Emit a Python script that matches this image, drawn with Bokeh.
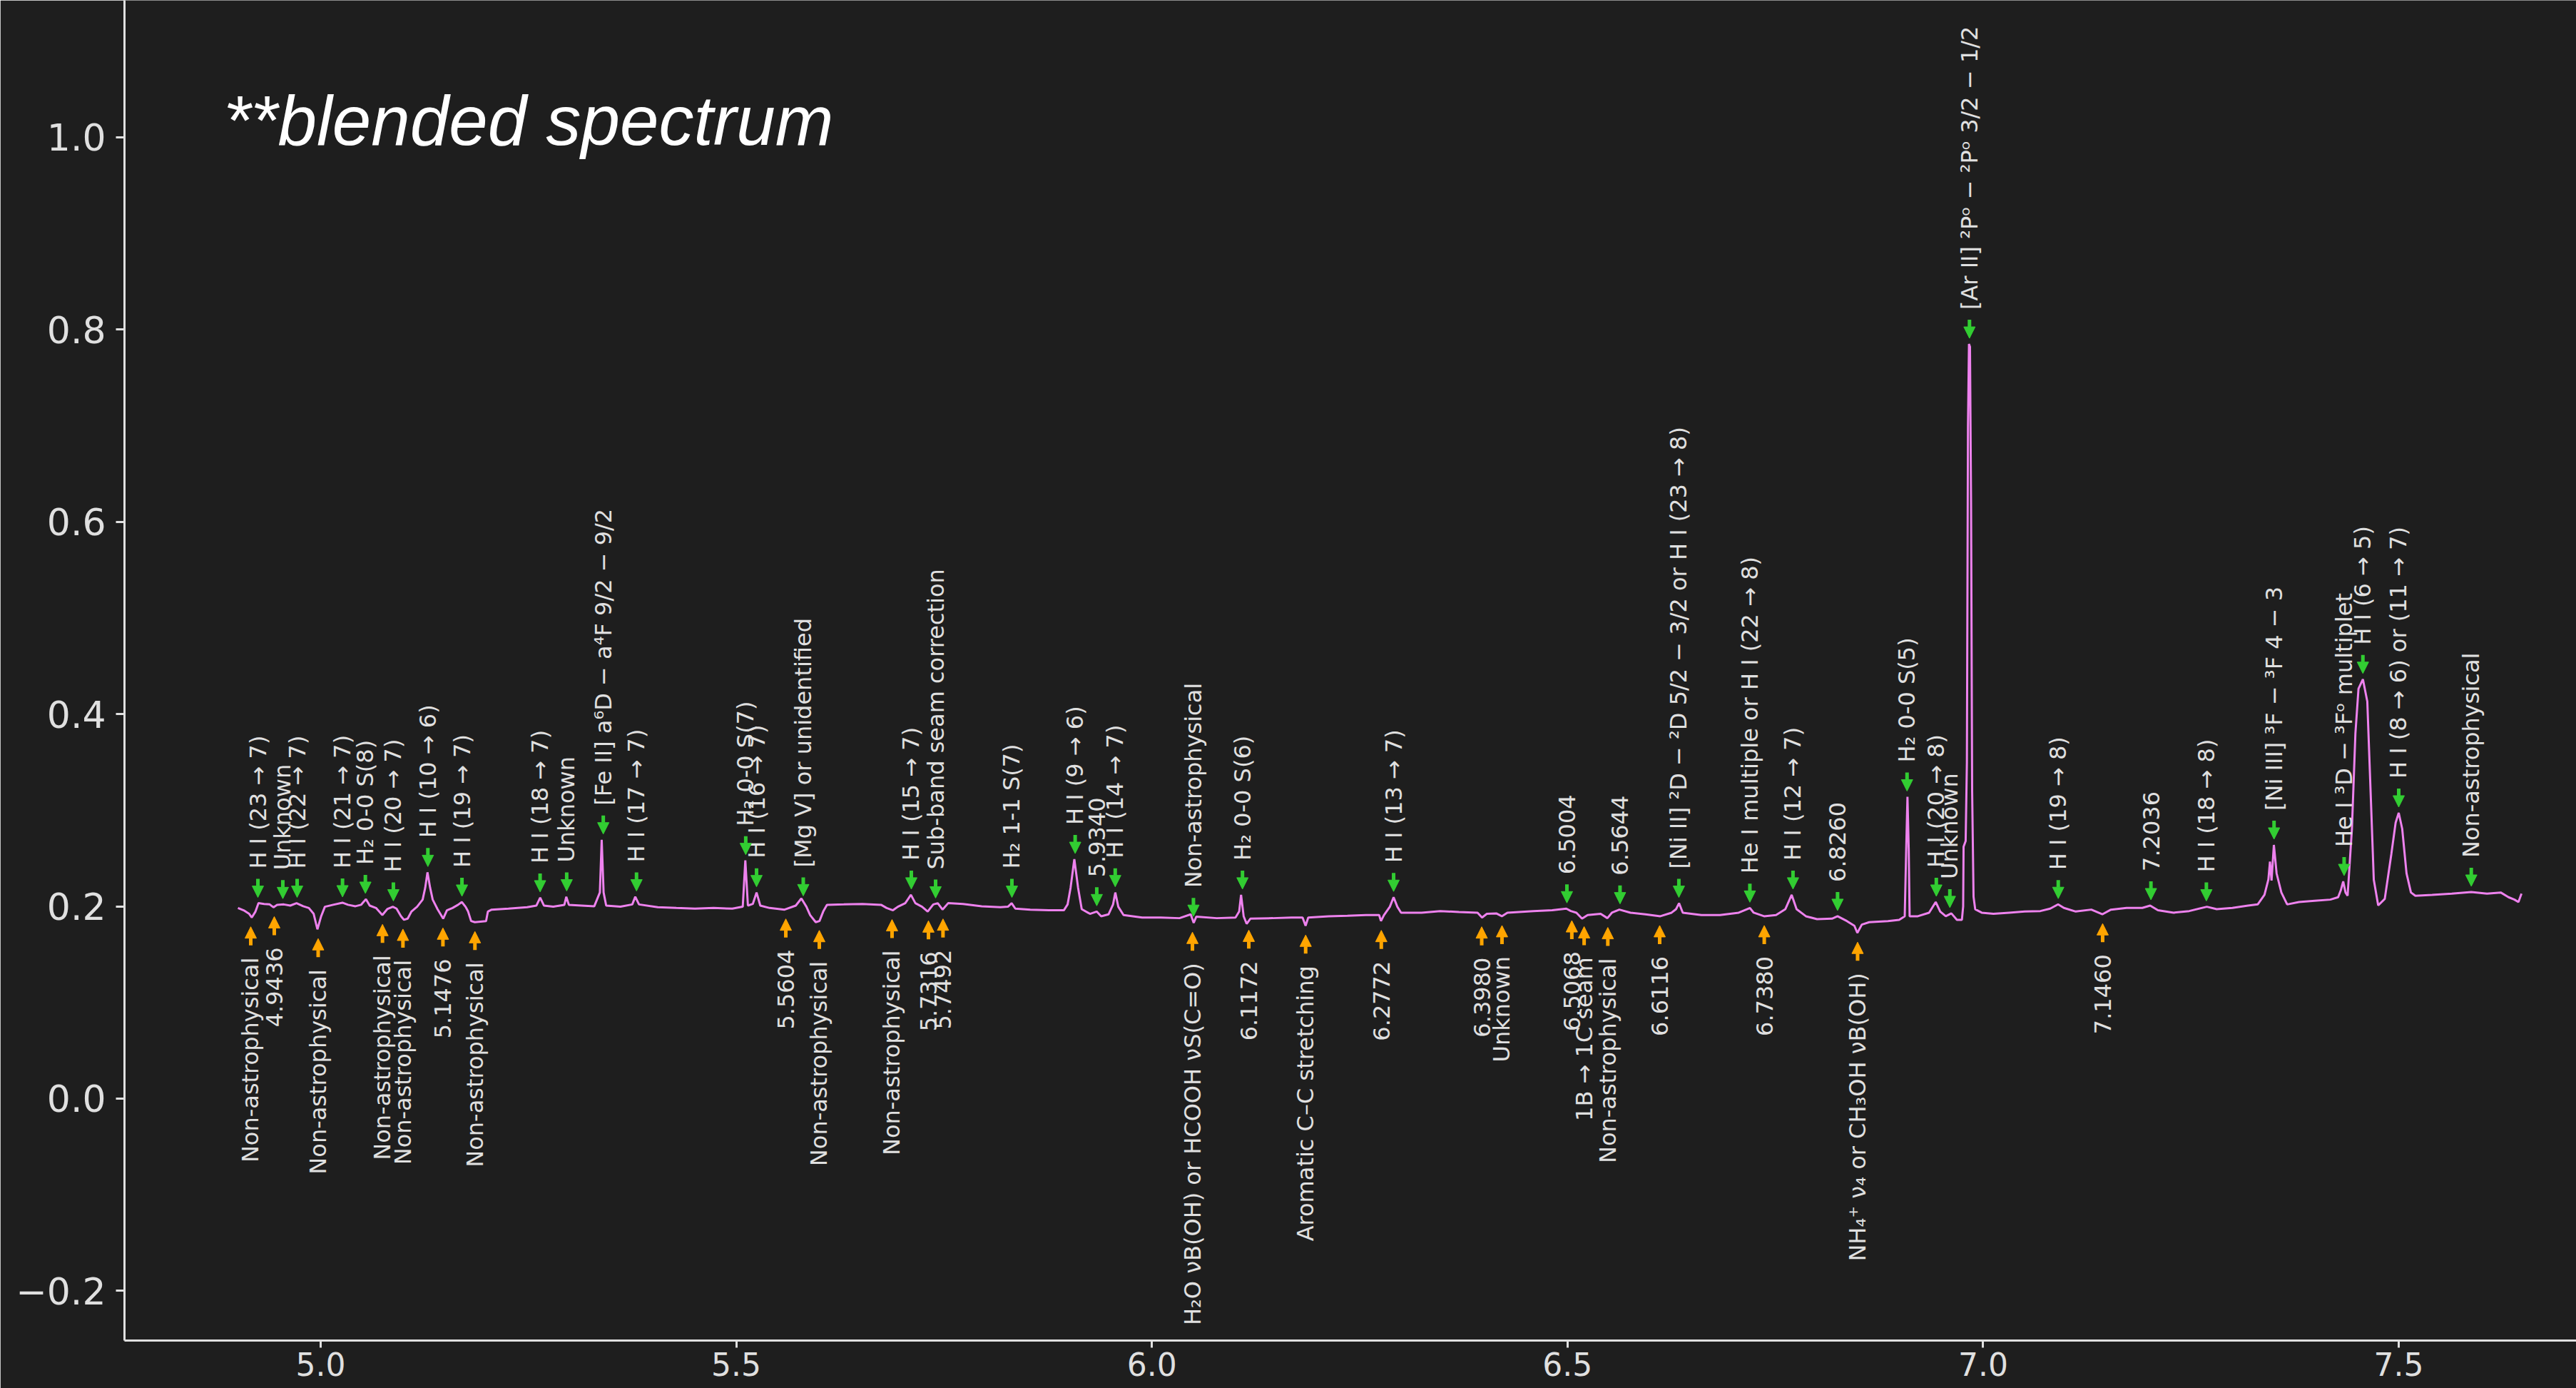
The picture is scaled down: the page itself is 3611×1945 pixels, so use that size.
import numpy as np
from bokeh.plotting import figure
from bokeh.models import ColumnDataSource, Arrow, NormalHead, Label, FixedTicker, Range1d
from bokeh.embed import file_html
from bokeh.resources import INLINE
from bokeh.core.properties import value

# ---------------- data ----------------
wavelength = [
    4.9005, 4.9073, 4.9140, 4.9171, 4.9216, 4.9252, 4.9320, 4.9387, 4.9432, 4.9476,
    4.9557, 4.9634, 4.9710, 4.9790, 4.9858, 4.9916, 4.9961, 5.0006, 5.0051, 5.0150,
    5.0262, 5.0329, 5.0419, 5.0486, 5.0545, 5.0590, 5.0666, 5.0742, 5.0801, 5.0868,
    5.0913, 5.0967, 5.1003, 5.1047, 5.1092, 5.1160, 5.1227, 5.1258, 5.1285, 5.1317,
    5.1348, 5.1406, 5.1474, 5.1519, 5.1586, 5.1653, 5.1698, 5.1743, 5.1774, 5.1810,
    5.1855, 5.1990, 5.2012, 5.2057, 5.2259, 5.2484, 5.2596, 5.2641, 5.2686, 5.2798,
    5.2932, 5.2955, 5.2986, 5.3292, 5.3359, 5.3381, 5.3404, 5.3435, 5.3606, 5.3749,
    5.3785, 5.3830, 5.4055, 5.4279, 5.4503, 5.4728, 5.4952, 5.5078, 5.5109, 5.5140,
    5.5199, 5.5244, 5.5289, 5.5401, 5.5581, 5.5716, 5.5783, 5.5844, 5.5889, 5.5956,
    5.6001, 5.6046, 5.6091, 5.6293, 5.6517, 5.6742, 5.6809, 5.6885, 5.6944, 5.7033,
    5.7101, 5.7155, 5.7235, 5.7303, 5.7370, 5.7424, 5.7482, 5.7549, 5.7729, 5.7953,
    5.8178, 5.8268, 5.8313, 5.8357, 5.8537, 5.8761, 5.8941, 5.8986, 5.9022, 5.9067,
    5.9112, 5.9156, 5.9255, 5.9336, 5.9390, 5.9479, 5.9533, 5.9560, 5.9596, 5.9659,
    5.9883, 6.0108, 6.0332, 6.0467, 6.0503, 6.0534, 6.0781, 6.1006, 6.1050, 6.1073,
    6.1104, 6.1140, 6.1185, 6.1454, 6.1679, 6.1813, 6.1849, 6.1881, 6.2128, 6.2352,
    6.2576, 6.2734, 6.2756, 6.2792, 6.2863, 6.2908, 6.2953, 6.2998, 6.3245, 6.3469,
    6.3694, 6.3918, 6.3972, 6.4030, 6.4143, 6.4210, 6.4277, 6.4591, 6.4816, 6.4986,
    6.5040, 6.5107, 6.5175, 6.5242, 6.5399, 6.5480, 6.5534, 6.5624, 6.5758, 6.5938,
    6.6117, 6.6252, 6.6306, 6.6342, 6.6387, 6.6611, 6.6835, 6.7060, 6.7195, 6.7240,
    6.7365, 6.7509, 6.7621, 6.7697, 6.7756, 6.7868, 6.8002, 6.8182, 6.8249, 6.8361,
    6.8451, 6.8487, 6.8541, 6.8630, 6.8855, 6.8990, 6.9057, 6.9075, 6.9090, 6.9105,
    6.9116, 6.9215, 6.9350, 6.9430, 6.9484, 6.9551, 6.9618, 6.9685, 6.9745, 6.9760,
    6.9765, 6.9790, 6.9805, 6.9818, 6.9830, 6.9842, 6.9855, 6.9868, 6.9885, 6.9905,
    6.9983, 7.0124, 7.0313, 7.0501, 7.0689, 7.0807, 7.0902, 7.0972, 7.1114, 7.1302,
    7.1434, 7.1538, 7.1726, 7.1915, 7.2010, 7.2103, 7.2292, 7.2480, 7.2692, 7.2810,
    7.2999, 7.3187, 7.3305, 7.3385, 7.3432, 7.3451, 7.3470, 7.3498, 7.3531, 7.3588,
    7.3658, 7.3800, 7.3988, 7.4177, 7.4271, 7.4304, 7.4332, 7.4360, 7.4385, 7.4437,
    7.4479, 7.4516, 7.4569, 7.4622, 7.4664, 7.4700, 7.4753, 7.4832, 7.4911, 7.4963,
    7.5000, 7.5042, 7.5094, 7.5147, 7.5200, 7.5402, 7.5638, 7.5873, 7.6062, 7.6227,
    7.6321, 7.6392, 7.6440, 7.6477,
]
flux = [
    0.1983, 0.1959, 0.1922, 0.1884, 0.1946, 0.2033, 0.2025, 0.2020, 0.1990, 0.2016,
    0.2020, 0.2008, 0.2033, 0.2001, 0.1983, 0.1922, 0.1761, 0.1897, 0.1996, 0.2016,
    0.2038, 0.2016, 0.2001, 0.2016, 0.2075, 0.2008, 0.1983, 0.1909, 0.1971, 0.1996,
    0.1976, 0.1897, 0.1860, 0.1872, 0.1946, 0.1996, 0.2070, 0.2194, 0.2354, 0.2194,
    0.2070, 0.1971, 0.1872, 0.1959, 0.1983, 0.2016, 0.2045, 0.1996, 0.1946, 0.1847,
    0.1835, 0.1847, 0.1946, 0.1966, 0.1976, 0.1991, 0.2008, 0.2090, 0.2008, 0.1996,
    0.2016, 0.2100, 0.2016, 0.2001, 0.2144, 0.2693, 0.2144, 0.2008, 0.1996, 0.2020,
    0.2100, 0.2020, 0.1991, 0.1983, 0.1976, 0.1983, 0.1976, 0.1996, 0.2478, 0.2008,
    0.2025, 0.2144, 0.2008, 0.1983, 0.1966, 0.2008, 0.2082, 0.1996, 0.1909, 0.1835,
    0.1847, 0.1946, 0.2016, 0.2020, 0.2025, 0.2016, 0.1983, 0.1959, 0.1996, 0.2033,
    0.2120, 0.2033, 0.1996, 0.1946, 0.2020, 0.2033, 0.1966, 0.2033, 0.2025, 0.2001,
    0.1991, 0.1996, 0.2033, 0.1976, 0.1966, 0.1959, 0.1959, 0.2020, 0.2194, 0.2490,
    0.2194, 0.1971, 0.1922, 0.1946, 0.1897, 0.1917, 0.2020, 0.2144, 0.1996, 0.1909,
    0.1884, 0.1884, 0.1877, 0.1917, 0.1828, 0.1892, 0.1877, 0.1884, 0.1946, 0.2120,
    0.1897, 0.1818, 0.1872, 0.1877, 0.1884, 0.1884, 0.1798, 0.1884, 0.1897, 0.1902,
    0.1909, 0.1909, 0.1847, 0.1909, 0.1996, 0.2095, 0.1996, 0.1934, 0.1934, 0.1951,
    0.1941, 0.1934, 0.1884, 0.1922, 0.1927, 0.1897, 0.1934, 0.1951, 0.1959, 0.1976,
    0.1951, 0.1934, 0.1872, 0.1909, 0.1922, 0.1877, 0.1934, 0.1966, 0.1934, 0.1917,
    0.1897, 0.1934, 0.1971, 0.2033, 0.1934, 0.1909, 0.1909, 0.1934, 0.1983, 0.1934,
    0.1897, 0.1909, 0.1971, 0.2120, 0.1971, 0.1897, 0.1867, 0.1872, 0.1897, 0.1847,
    0.1798, 0.1724, 0.1810, 0.1835, 0.1847, 0.1860, 0.1897, 0.2600, 0.3140, 0.2600,
    0.1897, 0.1897, 0.1934, 0.2045, 0.1946, 0.1897, 0.1927, 0.1860, 0.1860, 0.2000,
    0.2620, 0.2680, 0.3500, 0.7000, 0.7850, 0.7820, 0.6200, 0.3200, 0.2100, 0.1970,
    0.1934, 0.1922, 0.1934, 0.1946, 0.1951, 0.1976, 0.2021, 0.1984, 0.1946, 0.1966,
    0.1917, 0.1966, 0.1984, 0.1984, 0.2008, 0.1959, 0.1934, 0.1951, 0.1996, 0.1971,
    0.1984, 0.2008, 0.2021, 0.2120, 0.2280, 0.2466, 0.2268, 0.2639, 0.2342, 0.2144,
    0.2020, 0.2045, 0.2058, 0.2070, 0.2095, 0.2169, 0.2260, 0.2144, 0.2110, 0.2806,
    0.3800, 0.4264, 0.4363, 0.4131, 0.3138, 0.2277, 0.2010, 0.2077, 0.2543, 0.2871,
    0.2973, 0.2806, 0.2343, 0.2144, 0.2110, 0.2120, 0.2132, 0.2149, 0.2132, 0.2144,
    0.2095, 0.2070, 0.2045, 0.2132,
]

emission_wl = [
    4.9245, 4.9545, 4.9717, 5.0263, 5.0538, 5.0875, 5.1290, 5.1700, 5.2640, 5.2960,
    5.3400, 5.3800, 5.5114, 5.5244, 5.5806, 5.7106, 5.7398, 5.8316, 5.9077, 5.9337,
    5.9559, 6.0500, 6.1090, 6.2908, 6.4993, 6.5632, 6.6340, 6.7194, 6.7713, 6.8249,
    6.9085, 6.9437, 6.9600, 6.9836, 7.0904, 7.2019, 7.2686, 7.3500, 7.4343, 7.4569,
    7.5000, 7.5873,
]
emission_labels = [
    "H I (23 → 7)", "Unknown", "H I (22 → 7)", "H I (21 → 7)", "H₂ 0-0 S(8)",
    "H I (20 → 7)", "H I (10 → 6)", "H I (19 → 7)", "H I (18 → 7)", "Unknown",
    "[Fe II] a⁶D − a⁴F 9/2 − 9/2", "H I (17 → 7)", "H₂ 0-0 S(7)", "H I (16 → 7)",
    "[Mg V] or unidentified", "H I (15 → 7)", "Sub-band seam correction", "H₂ 1-1 S(7)",
    "H I (9 → 6)", "5.9340", "H I (14 → 7)", "Non-astrophysical", "H₂ 0-0 S(6)",
    "H I (13 → 7)", "6.5004", "6.5644", "[Ni II] ²D − ²D 5/2 − 3/2 or H I (23 → 8)",
    "He I multiple or H I (22 → 8)", "H I (12 → 7)", "6.8260", "H₂ 0-0 S(5)",
    "H I (20 → 8)", "Unknown", "[Ar II] ²Pᵒ − ²Pᵒ 3/2 − 1/2", "H I (19 → 8)", "7.2036",
    "H I (18 → 8)", "[Ni III] ³F − ³F 4 − 3", "He I ³D − ³Fᵒ multiplet", "H I (6 → 5)",
    "H I (8 → 6) or (11 → 7)", "Non-astrophysical",
]

feature_wl = [
    4.9159, 4.9442, 4.9970, 5.0744, 5.0990, 5.1471, 5.1856, 5.5596, 5.5999, 5.6874,
    5.7312, 5.7487, 6.0488, 6.1166, 6.1850, 6.2760, 6.3968, 6.4212, 6.5052, 6.5200,
    6.5485, 6.6109, 6.7367, 6.8490, 7.1438,
]
feature_labels = [
    "Non-astrophysical", "4.9436", "Non-astrophysical", "Non-astrophysical",
    "Non-astrophysical", "5.1476", "Non-astrophysical", "5.5604", "Non-astrophysical",
    "Non-astrophysical", "5.7316", "5.7492", "H₂O νB(OH) or HCOOH νS(C=O)", "6.1172",
    "Aromatic C–C stretching", "6.2772", "6.3980", "Unknown", "6.5068", "1B → 1C seam",
    "Non-astrophysical", "6.6116", "6.7380", "NH₄⁺ ν₄ or CH₃OH νB(OH)", "7.1460",
]

x_ticks = [5.0, 5.5, 6.0, 6.5, 7.0, 7.5]
x_tick_labels = ["5.0", "5.5", "6.0", "6.5", "7.0", "7.5"]
y_ticks = [-0.2, 0.0, 0.2, 0.4, 0.6, 0.8, 1.0]
y_tick_labels = ["−0.2", "0.0", "0.2", "0.4", "0.6", "0.8", "1.0"]
title_text = "**blended spectrum"

# ---------------- layout / style ----------------
BG = "#1e1e1e"
FG = "#e0e0e0"
GREEN = "limegreen"
ORANGE = "orange"
LINE = "violet"

W, H = 3611, 1945
BORDER_LEFT, BORDER_BOTTOM = 174, 67
X0, X1 = 4.764, 7.7137
Y0, Y1 = -0.2517, 1.1425

p = figure(width=W, height=H, x_range=Range1d(X0, X1), y_range=Range1d(Y0, Y1),
           output_backend="svg", toolbar_location=None,
           min_border_left=BORDER_LEFT, min_border_right=0, min_border_top=0,
           min_border_bottom=BORDER_BOTTOM,
           background_fill_color=BG, border_fill_color=BG, outline_line_color=None)
p.grid.visible = False

frame_h = H - BORDER_BOTTOM
px = (Y1 - Y0) / frame_h  # data units per pixel (y)

for ax in (p.xaxis[0], p.yaxis[0]):
    ax.axis_line_color = FG
    ax.axis_line_width = 3
    ax.major_tick_line_color = FG
    ax.major_tick_line_width = 3
    ax.major_tick_in = 0
    ax.minor_tick_line_color = None
    ax.major_label_text_color = FG
    ax.major_label_text_font = "DejaVu Sans"

p.xaxis.ticker = FixedTicker(ticks=x_ticks)
p.xaxis.major_label_overrides = dict(zip(x_ticks, x_tick_labels))
p.xaxis.major_tick_out = 10
p.xaxis.major_label_standoff = 6
p.xaxis.major_label_text_font_size = "44px"

p.yaxis.ticker = FixedTicker(ticks=y_ticks)
p.yaxis.major_label_overrides = dict(zip(y_ticks, y_tick_labels))
p.yaxis.major_tick_out = 12
p.yaxis.major_label_standoff = 14
p.yaxis.major_label_text_font_size = "52px"

# spectrum
p.line(wavelength, flux, line_color=LINE, line_width=3)

wl_arr = np.array(wavelength)
fl_arr = np.array(flux)


def local(wl, fn, half=0.002):
    vals = list(fl_arr[np.abs(wl_arr - wl) <= half]) + [float(np.interp(wl, wl_arr, fl_arr))]
    return fn(vals)


# emission markers (above the spectrum)
g_tip = [local(w, max) + 8 * px for w in emission_wl]
g_tail = [t + 26 * px for t in g_tip]
g_text = [t + 40 * px for t in g_tip]
gsrc = ColumnDataSource(dict(x=emission_wl, y0=g_tail, y1=g_tip, yt=g_text, label=emission_labels))
p.add_layout(Arrow(end=NormalHead(size=16, fill_color=GREEN, line_color=GREEN, line_width=1),
                   source=gsrc, x_start="x", y_start="y0", x_end="x", y_end="y1",
                   line_color=GREEN, line_width=5))
p.text(x="x", y="yt", text="label", source=gsrc, angle=np.pi / 2,
       text_align="left", text_baseline="middle", text_font=value("DejaVu Sans"),
       text_font_size="32px", text_color=FG)

# feature markers (below the spectrum)
o_tip = [local(w, min) - 13 * px for w in feature_wl]
o_tail = [t - 26 * px for t in o_tip]
o_text = [t - 43 * px for t in o_tip]
osrc = ColumnDataSource(dict(x=feature_wl, y0=o_tail, y1=o_tip, yt=o_text, label=feature_labels))
p.add_layout(Arrow(end=NormalHead(size=16, fill_color=ORANGE, line_color=ORANGE, line_width=1),
                   source=osrc, x_start="x", y_start="y0", x_end="x", y_end="y1",
                   line_color=ORANGE, line_width=5))
p.text(x="x", y="yt", text="label", source=osrc, angle=np.pi / 2,
       text_align="right", text_baseline="middle", text_font=value("DejaVu Sans"),
       text_font_size="32px", text_color=FG)

# title-like annotation
p.add_layout(Label(x=4.8830, y=1.0171, text=title_text, text_font="Liberation Sans",
                   text_font_style="italic", text_font_size="98px", text_color="white",
                   text_align="left", text_baseline="alphabetic"))

open("out.html", "w").write(file_html(p, INLINE))
